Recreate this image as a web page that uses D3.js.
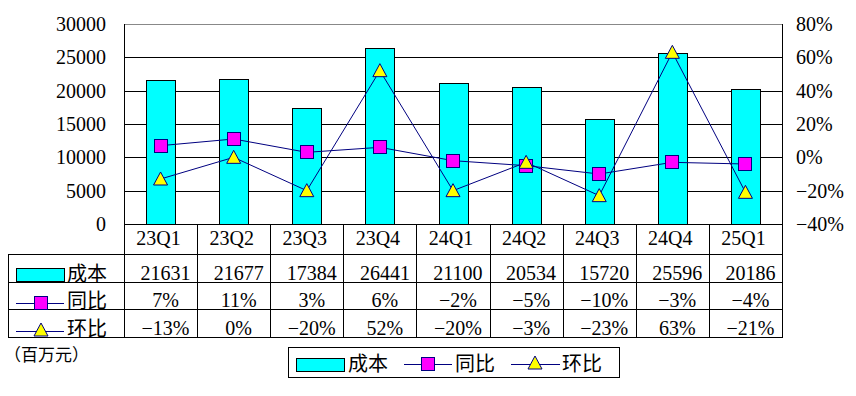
<!DOCTYPE html>
<meta charset="utf-8">
<style>
body { margin: 0; background: #fff; }
.num { font-family: "Liberation Serif", serif; font-size: 20px; }
.cjk { font-family: "Noto Sans CJK SC", sans-serif; font-size: 20px; }
</style>
<svg width="856" height="396"></svg>
<script src="https://cdn.jsdelivr.net/npm/d3@7"></script>
<script>
var categories = ["23Q1", "23Q2", "23Q3", "23Q4", "24Q1", "24Q2", "24Q3", "24Q4", "25Q1"];
var cost = [21631, 21677, 17384, 26441, 21100, 20534, 15720, 25596, 20186];
var yoy = [7, 11, 3, 6, -2, -5, -10, -3, -4];
var qoq = [-13, 0, -20, 52, -20, -3, -23, 63, -21];
var leftTicks = [0, 5000, 10000, 15000, 20000, 25000, 30000];
var rightTicks = [-40, -20, 0, 20, 40, 60, 80];
var seriesNames = ["成本", "同比", "环比"];
var unitLabel = "（百万元）";

var svg = d3.select("svg"),
    plotLeft = 124, plotRight = 782, plotTop = 24, plotBottom = 224,
    tableLeft = 8,
    rows = [224, 254, 282, 309, 337];

var x = d3.scaleBand().domain(categories).range([plotLeft, plotRight]).padding(0);
var y = d3.scaleLinear().domain([0, 30000]).range([plotBottom, plotTop]);
var y2 = d3.scaleLinear().domain([-40, 80]).range([plotBottom, plotTop]);

var fmtPct = function(v) { return (v < 0 ? "−" + (-v) : v) + "%"; };
var serif = "Liberation Serif";

// gridlines
svg.append("g").selectAll("line")
  .data(leftTicks.filter(function(d) { return d > 0 && d < 30000; }))
  .enter().append("line")
    .attr("x1", plotLeft).attr("x2", plotRight)
    .attr("y1", function(d) { return Math.round(y(d)) + 0.5; })
    .attr("y2", function(d) { return Math.round(y(d)) + 0.5; })
    .attr("stroke", "#000");
svg.append("line").attr("x1", plotLeft).attr("x2", plotRight)
  .attr("y1", plotTop + 0.5).attr("y2", plotTop + 0.5).attr("stroke", "#888");

// left axis labels
var ax = svg.append("g").attr("transform", "translate(" + (plotLeft - 18) + ",0)")
  .call(d3.axisLeft(y).tickValues(leftTicks).tickSize(0).tickPadding(0).tickFormat(d3.format("d")))
  .attr("font-family", serif).attr("font-size", 20);
ax.select(".domain").remove();
ax.selectAll("text").attr("fill", "#000");

// right axis labels
var ax2 = svg.append("g").attr("transform", "translate(" + (plotRight + 14) + ",0)")
  .call(d3.axisRight(y2).tickValues(rightTicks).tickSize(0).tickPadding(0).tickFormat(fmtPct))
  .attr("font-family", serif).attr("font-size", 20);
ax2.select(".domain").remove();
ax2.selectAll("text").attr("fill", "#000");

// bars
var bw = 29;
svg.append("g").selectAll("rect")
  .data(cost)
  .enter().append("rect")
    .attr("x", function(d, i) { return Math.round(x(categories[i]) + x.bandwidth() / 2 - bw / 2) + 0.5; })
    .attr("y", function(d) { return Math.round(y(d)) + 0.5; })
    .attr("width", bw)
    .attr("height", function(d) { return Math.round(plotBottom - y(d)); })
    .attr("fill", "#00ffff")
    .attr("stroke", "#000");

// table lines
var tl = svg.append("g").attr("stroke", "#000").attr("shape-rendering", "crispEdges");
tl.append("line").attr("x1", plotLeft).attr("x2", plotRight).attr("y1", rows[0] + 0.5).attr("y2", rows[0] + 0.5);
rows.slice(1).forEach(function(r) {
  tl.append("line").attr("x1", tableLeft).attr("x2", plotRight).attr("y1", r + 0.5).attr("y2", r + 0.5);
});
tl.append("line").attr("x1", tableLeft + 0.5).attr("x2", tableLeft + 0.5).attr("y1", rows[1]).attr("y2", rows[4] + 1);
tl.append("line").attr("x1", plotLeft + 0.5).attr("x2", plotLeft + 0.5).attr("y1", plotTop).attr("y2", rows[4] + 1);
tl.append("line").attr("x1", plotRight + 0.5).attr("x2", plotRight + 0.5).attr("y1", plotTop).attr("y2", rows[4] + 1);
categories.slice(1).forEach(function(c) {
  var xx = Math.round(x(c)) + 0.5;
  tl.append("line").attr("x1", xx).attr("x2", xx).attr("y1", rows[0]).attr("y2", rows[4] + 1);
});

// lines + markers
var navy = "#000080";
var line = function(vals) {
  return d3.line()
    .x(function(d, i) { return x(categories[i]) + x.bandwidth() / 2; })
    .y(function(d) { return y2(d); })(vals);
};
svg.append("path").attr("d", line(yoy)).attr("fill", "none").attr("stroke", navy);
svg.append("path").attr("d", line(qoq)).attr("fill", "none").attr("stroke", navy);

function square(g, cx, cy) {
  g.append("rect").attr("x", Math.round(cx - 7) + 0.5).attr("y", Math.round(cy - 7) + 0.5)
    .attr("width", 13).attr("height", 13).attr("fill", "#ff00ff").attr("stroke", navy);
}
function triangle(g, cx, cy) {
  g.append("path").attr("d", "M" + cx + "," + (cy - 7) + "L" + (cx + 7) + "," + (cy + 6) + "L" + (cx - 7) + "," + (cy + 6) + "Z")
    .attr("fill", "#ffff00").attr("stroke", navy);
}
var mk = svg.append("g");
yoy.forEach(function(v, i) { square(mk, x(categories[i]) + x.bandwidth() / 2, y2(v)); });
qoq.forEach(function(v, i) { triangle(mk, x(categories[i]) + x.bandwidth() / 2, y2(v)); });

// table text
var tt = svg.append("g").attr("font-family", serif).attr("font-size", 20).attr("text-anchor", "middle");
categories.forEach(function(c, i) {
  var cx = x(c) + x.bandwidth() / 2;
  tt.append("text").attr("x", cx - 2).attr("y", 245).text(c);
  tt.append("text").attr("x", cx + 5).attr("y", 280).text(cost[i]);
  tt.append("text").attr("x", cx + 5).attr("y", 307).text(fmtPct(yoy[i]));
  tt.append("text").attr("x", cx + 5).attr("y", 335).text(fmtPct(qoq[i]));
});

// table row keys
var rk = svg.append("g");
rk.append("rect").attr("x", 16.5).attr("y", 268.5).attr("width", 48).attr("height", 13)
  .attr("fill", "#00ffff").attr("stroke", "#000");
rk.append("line").attr("x1", 16).attr("x2", 64).attr("y1", 303.5).attr("y2", 303.5).attr("stroke", navy);
square(rk, 41, 303);
rk.append("line").attr("x1", 16).attr("x2", 64).attr("y1", 331.5).attr("y2", 331.5).attr("stroke", navy);
triangle(rk, 41, 330);
[280, 307, 335].forEach(function(yy, i) {
  rk.append("text").attr("class", "cjk").attr("x", 67).attr("y", yy + 1).text(seriesNames[i]);
});

svg.append("text").attr("class", "cjk").style("font-size", "17px")
  .attr("x", 4).attr("y", 361).text(unitLabel);

// legend
var lg = svg.append("g");
lg.append("rect").attr("x", 288.5).attr("y", 347.5).attr("width", 331).attr("height", 30)
  .attr("fill", "#fff").attr("stroke", "#000");
lg.append("rect").attr("x", 296.5).attr("y", 358.5).attr("width", 48).attr("height", 13)
  .attr("fill", "#00ffff").attr("stroke", "#000");
lg.append("text").attr("class", "cjk").attr("x", 348).attr("y", 371).text(seriesNames[0]);
lg.append("line").attr("x1", 404).attr("x2", 452).attr("y1", 364.5).attr("y2", 364.5).attr("stroke", navy);
square(lg, 428, 364);
lg.append("text").attr("class", "cjk").attr("x", 455).attr("y", 371).text(seriesNames[1]);
lg.append("line").attr("x1", 511).attr("x2", 560).attr("y1", 364.5).attr("y2", 364.5).attr("stroke", navy);
triangle(lg, 535, 363);
lg.append("text").attr("class", "cjk").attr("x", 562).attr("y", 371).text(seriesNames[2]);
</script>
